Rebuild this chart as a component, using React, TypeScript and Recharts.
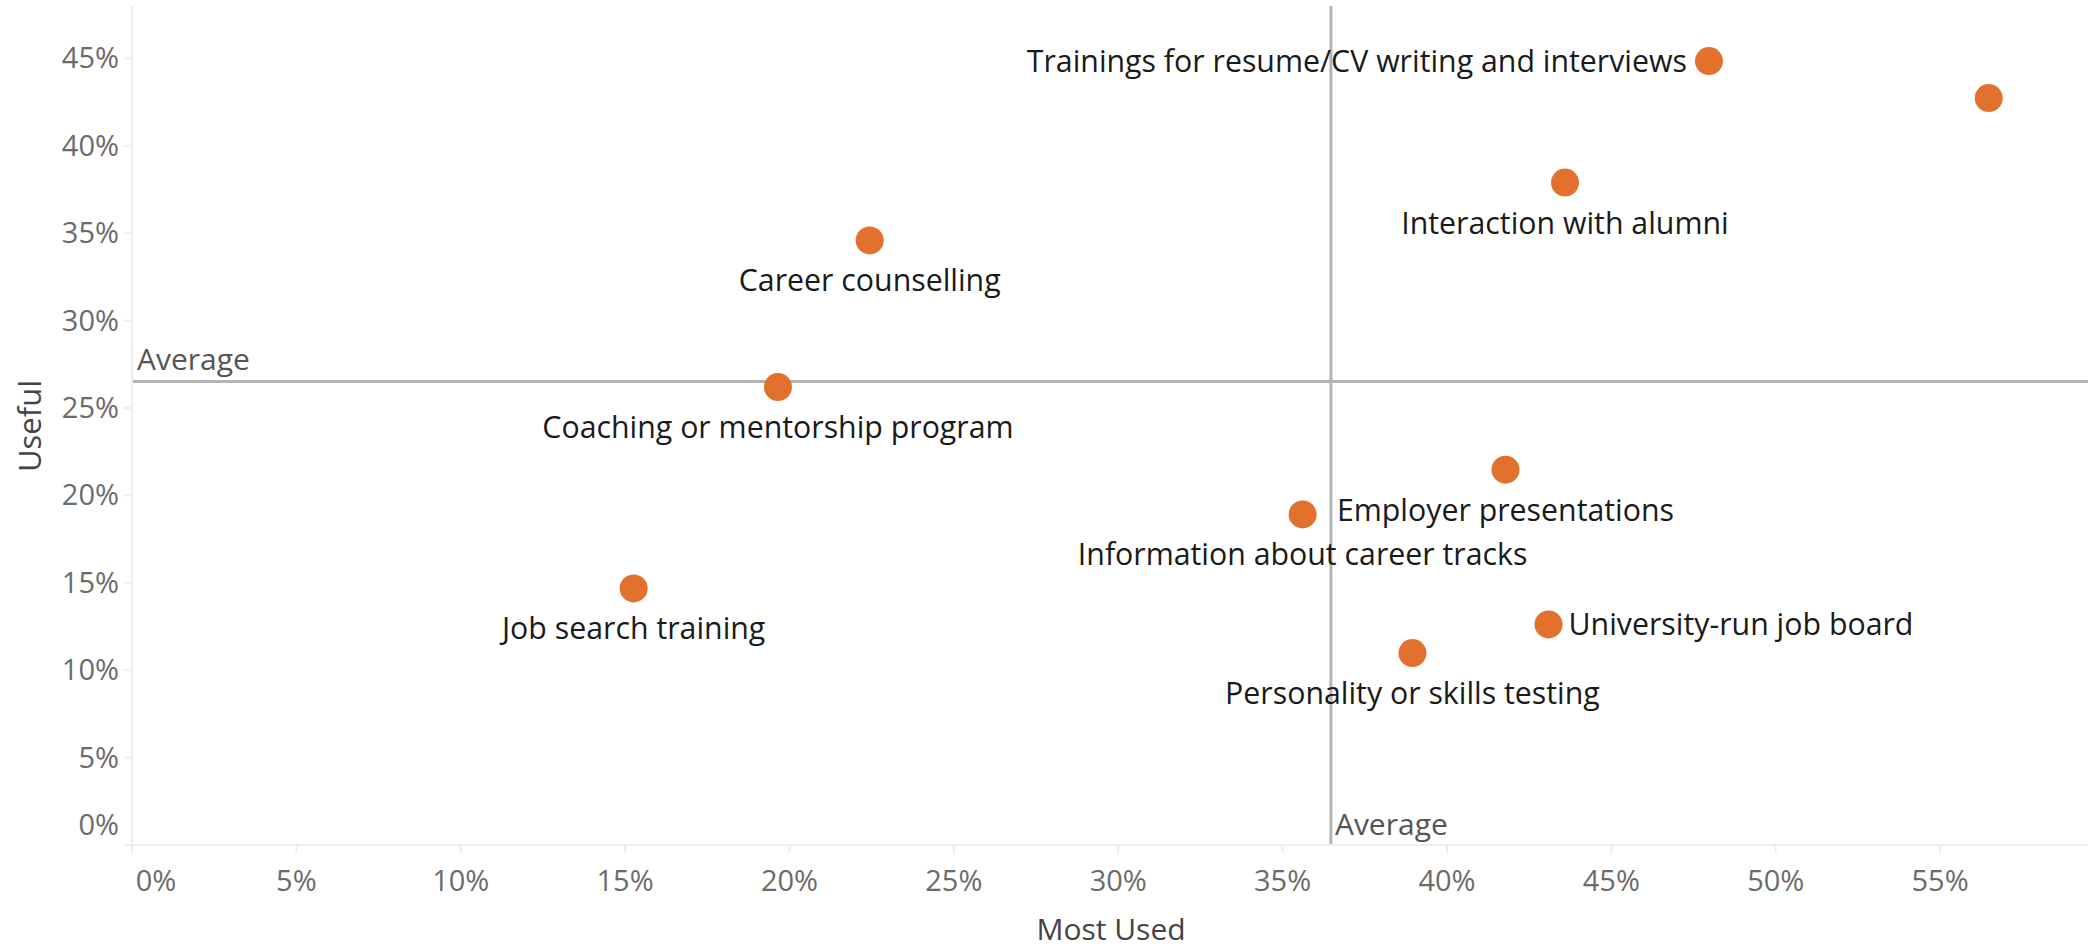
import React from 'react';
import { ScatterChart, Scatter, XAxis, YAxis, ReferenceLine, Label } from 'recharts';

const categories = [
  'Trainings for resume/CV writing and interviews',
  '',
  'Interaction with alumni',
  'Career counselling',
  'Coaching or mentorship program',
  'Employer presentations',
  'Information about career tracks',
  'University-run job board',
  'Personality or skills testing',
  'Job search training',
];
const mostUsed = [47.97, 56.48, 43.59, 22.44, 19.65, 41.78, 35.61, 43.09, 38.95, 15.26];
const useful = [44.85, 42.73, 37.9, 34.59, 26.2, 21.47, 18.91, 12.62, 10.98, 14.68];
const xTicks = [0, 5, 10, 15, 20, 25, 30, 35, 40, 45, 50, 55];
const yTicks = [0, 5, 10, 15, 20, 25, 30, 35, 40, 45];
const avgMostUsed = 36.47;
const avgUseful = 26.52;

// label placement per category (style, not data)
const placement: Record<string, string> = {
  'Trainings for resume/CV writing and interviews': 'left',
  'University-run job board': 'right',
};

const data = categories.map((name, i) => ({ name, x: mostUsed[i], y: useful[i] }));

const FONT = '"Open Sans", sans-serif';
const DOT = '#E3712E';
const LABEL_SIZE = 30.3;

const Dot = (props: any) => {
  const { cx, cy, payload } = props;
  const name: string = payload?.name ?? '';
  const pl = placement[name] || 'below';
  let label = null;
  if (name) {
    if (pl === 'left') {
      label = (
        <text x={cx - 22} y={cy + 11} textAnchor="end" fontSize={LABEL_SIZE} fontFamily={FONT} fill="#1a1a1a">
          {name}
        </text>
      );
    } else if (pl === 'right') {
      label = (
        <text x={cx + 20} y={cy + 11} textAnchor="start" fontSize={LABEL_SIZE} fontFamily={FONT} fill="#1a1a1a">
          {name}
        </text>
      );
    } else {
      label = (
        <text x={cx} y={cy + 51} textAnchor="middle" fontSize={LABEL_SIZE} fontFamily={FONT} fill="#1a1a1a">
          {name}
        </text>
      );
    }
  }
  return (
    <g>
      <circle cx={cx} cy={cy} r={14} fill={DOT} />
      {label}
    </g>
  );
};

const XTick = (props: any) => {
  const { x, y, payload } = props;
  const dx = payload.value === 0 ? 24 : 0;
  return (
    <text x={x + dx} y={y + 36} textAnchor="middle" fontSize={29} fontFamily={FONT} fill="#6b6b6b">
      {`${payload.value}%`}
    </text>
  );
};

const YTick = (props: any) => {
  const { y, payload } = props;
  const dy = payload.value === 0 ? -20 : 0;
  return (
    <text x={119} y={y + dy + 10} textAnchor="end" fontSize={29} fontFamily={FONT} fill="#6b6b6b">
      {`${payload.value}%`}
    </text>
  );
};

const HAvgLabel = (props: any) => {
  const { viewBox } = props;
  return (
    <text x={viewBox.x + 5} y={viewBox.y - 11} fontSize={30} fontFamily={FONT} fill="#555">
      Average
    </text>
  );
};

const VAvgLabel = (props: any) => {
  const { viewBox } = props;
  return (
    <text x={viewBox.x + 4} y={viewBox.y + viewBox.height - 10} fontSize={30} fontFamily={FONT} fill="#555">
      Average
    </text>
  );
};

export default function App() {
  return (
    <div style={{ position: 'absolute', left: 0, top: 0, width: 2090, height: 949, background: '#fff' }}>
      <ScatterChart width={2090} height={949} margin={{ top: 6, right: 2, left: 0, bottom: 0 }}>
        <XAxis
          type="number"
          dataKey="x"
          domain={[0, 59.5]}
          ticks={xTicks}
          interval={0}
          height={104}
          axisLine={{ stroke: '#eeeeee', strokeWidth: 2 }}
          tickLine={{ stroke: '#eeeeee', strokeWidth: 2 }}
          tickSize={8}
          tick={<XTick />}
        >
          <Label
            content={() => (
              <text x={1111} y={940} textAnchor="middle" fontSize={30} fontFamily={FONT} fill="#444">
                Most Used
              </text>
            )}
          />
        </XAxis>
        <YAxis
          type="number"
          dataKey="y"
          domain={[0, 48]}
          ticks={yTicks}
          interval={0}
          width={132}
          axisLine={{ stroke: '#eeeeee', strokeWidth: 2 }}
          tickLine={{ stroke: '#eeeeee', strokeWidth: 2 }}
          tickSize={8}
          tick={<YTick />}
        >
          <Label
            content={() => (
              <text
                x={41}
                y={426}
                textAnchor="middle"
                fontSize={31}
                fontFamily={FONT}
                fill="#444"
                transform="rotate(-90 41 426)"
              >
                Useful
              </text>
            )}
          />
        </YAxis>
        <ReferenceLine y={avgUseful} stroke="#b4b4b4" strokeWidth={3} label={<HAvgLabel />} />
        <ReferenceLine x={avgMostUsed} stroke="#b4b4b4" strokeWidth={3} label={<VAvgLabel />} />
        <Scatter data={data} isAnimationActive={false} shape={<Dot />} />
      </ScatterChart>
    </div>
  );
}
